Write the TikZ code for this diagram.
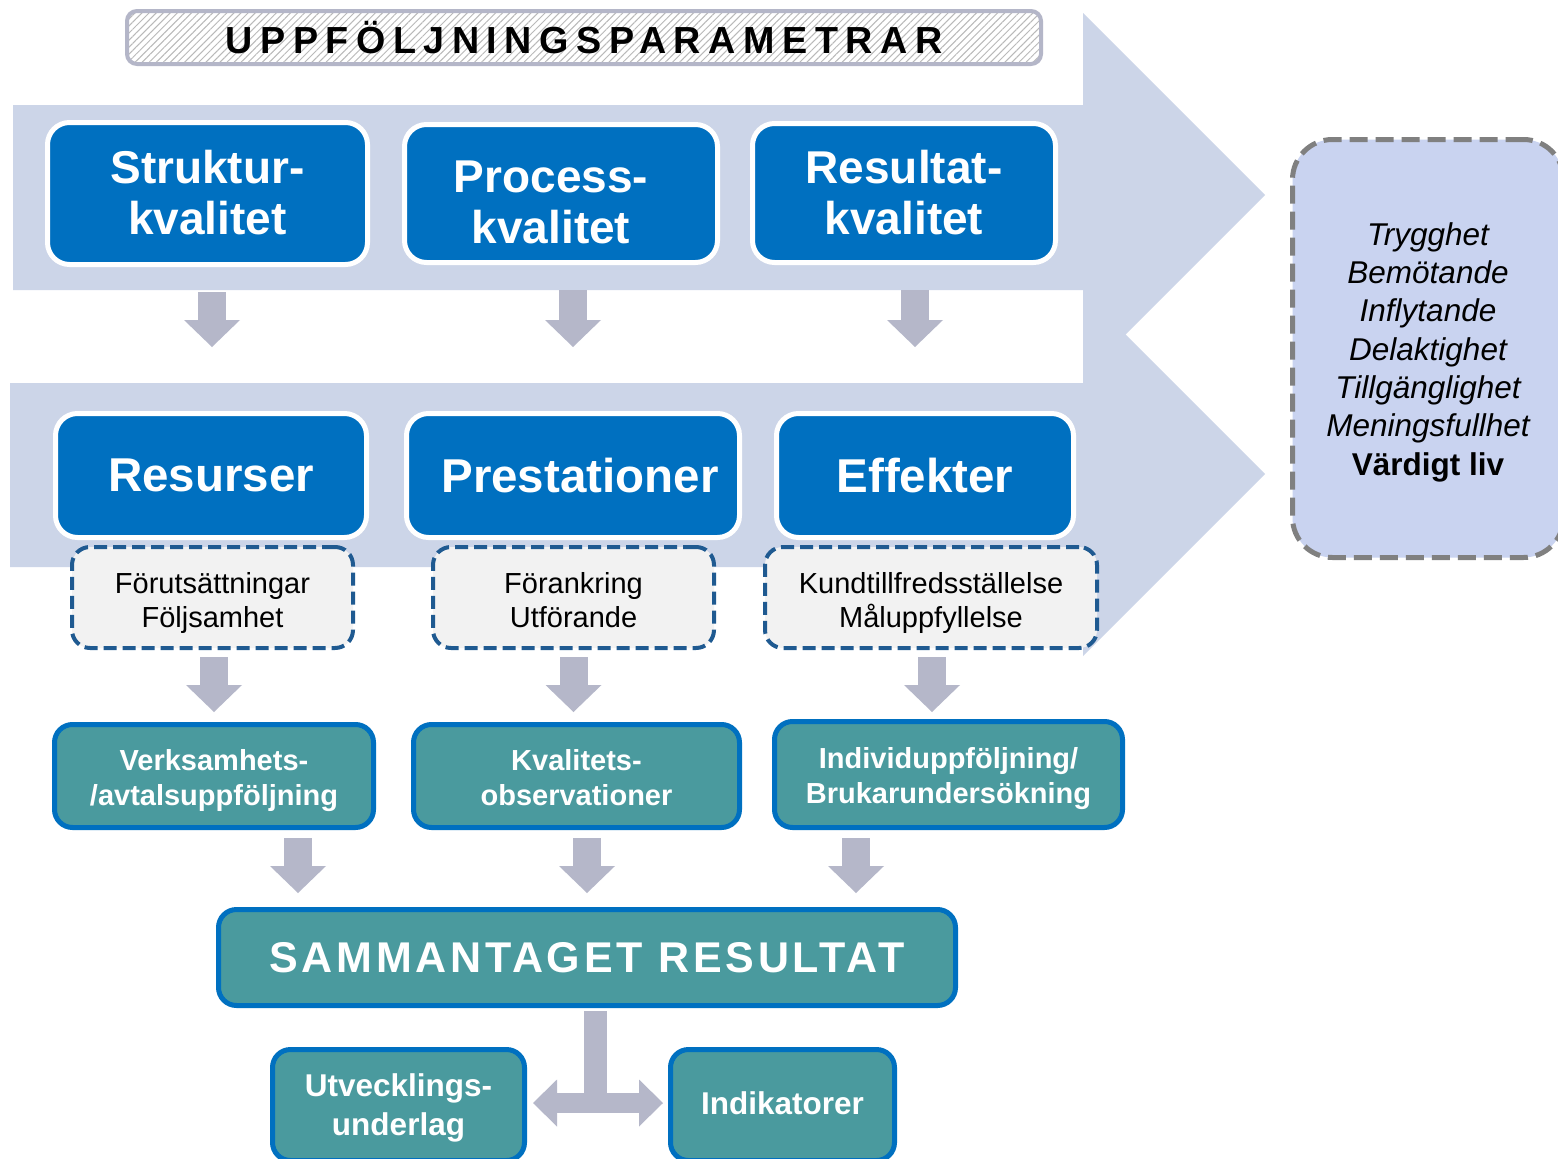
\documentclass[tikz,border=0pt]{standalone}
\usepackage{fontspec}
\setmainfont{Liberation Sans}
\usetikzlibrary{arrows.meta,patterns.meta,calc}
\definecolor{bgarrow}{RGB}{204,213,232}
\definecolor{rfill}{RGB}{201,211,240}
\definecolor{dblue}{RGB}{0,112,192}
\definecolor{teal1}{RGB}{74,154,158}
\definecolor{dashblue}{RGB}{31,90,145}
\definecolor{dfill}{RGB}{242,242,242}
\definecolor{garrowc}{RGB}{181,183,201}
\definecolor{tborder}{RGB}{180,182,200}
\definecolor{rborder}{RGB}{128,128,128}
\begin{document}
\begin{tikzpicture}[x=1pt,y=-1pt,
  bluebox/.style={rounded corners=22pt, fill=dblue, draw=white, line width=5pt, text=white, align=center, inner sep=0pt},
  toptxt/.style={font=\bfseries\fontsize{46}{51}\selectfont, text height=82pt, text depth=0pt},
  midtxt/.style={font=\bfseries\fontsize{47.5}{52}\selectfont},
  dbox/.style={rounded corners=18pt, fill=dfill, draw=dashblue, line width=4pt, dash pattern=on 13pt off 6pt, align=center, inner sep=0pt, font=\fontsize{29}{34}\selectfont, text height=65pt, text depth=6pt},
  tbox/.style={rounded corners=18pt, fill=teal1, draw=dblue, line width=5pt, text=white, align=center, inner sep=0pt, font=\bfseries\fontsize{29}{35}\selectfont},
  ttxt/.style={text height=64pt, text depth=6pt},
  garrow/.style={draw=garrowc, line width=28pt, -{Triangle[width=56pt,length=27pt,line width=0pt]}},
  darrow/.style={draw=garrowc, line width=20pt, {Triangle[width=47pt,length=24pt,line width=0pt]}-{Triangle[width=47pt,length=24pt,line width=0pt]}},
  stemline/.style={draw=garrowc, line width=23pt},
  bigarrow/.style={fill=bgarrow}
]
\useasboundingbox (0,0) rectangle (1558,1159);
\clip (0,0) rectangle (1558,1159);
\fill[white] (0,0) rectangle (1558,1159);

% background arrows
\fill[bigarrow] (13,105) -- (1083,105) -- (1083,13) -- (1265,195) -- (1083,377) -- (1083,290) -- (13,290) -- cycle;
\fill[bigarrow] (10,383) -- (1083,383) -- (1083,292) -- (1265,474) -- (1083,656) -- (1083,567) -- (10,567) -- cycle;

% title banner
\node[draw=tborder, line width=4pt, rounded corners=10pt, preaction={fill=white},
  pattern={Lines[angle=45,distance=5pt,line width=1pt]}, pattern color=gray!55,
  minimum width=914pt, minimum height=53pt, inner sep=0pt,
  font=\bfseries\fontsize{37.7}{40}\selectfont\addfontfeature{LetterSpace=20}]
  (title) at (584,37.5) {UPPFÖLJNINGSPARAMETRAR};

% top row
\node[bluebox, toptxt, minimum width=320pt, minimum height=142pt] (s1) at (207.5,193.5) {Struktur-\\kvalitet};
\node[bluebox, toptxt, text height=99pt, minimum width=313pt, minimum height=138pt] (s2) at (561,193.5) {Process-\hspace*{20pt}\\kvalitet\hspace*{20pt}};
\node[bluebox, toptxt, minimum width=303pt, minimum height=139pt] (s3) at (904,193) {Resultat-\\kvalitet};

% second row
\node[bluebox, midtxt, minimum width=311pt, minimum height=124pt] (r1) at (211,475.5) {Resurser};
\node[bluebox, midtxt, minimum width=333pt, minimum height=124pt] (r2) at (573,475.5) {\hspace*{14pt}Prestationer};
\node[bluebox, midtxt, minimum width=297pt, minimum height=124pt] (r3) at (925,475.5) {Effekter};

% dashed boxes
\node[dbox, minimum width=281pt, minimum height=101pt] (d1) at (212.5,597.5) {Förutsättningar\\Följsamhet};
\node[dbox, minimum width=281pt, minimum height=101pt] (d2) at (573.5,597.5) {Förankring\\Utförande};
\node[dbox, minimum width=332pt, minimum height=101pt] (d3) at (931,597.5) {Kundtillfredsställelse\\Måluppfyllelse};

% teal boxes
\node[tbox, ttxt, minimum width=319pt, minimum height=103pt] (t1) at (214,776) {Verksamhets-\\/avtalsuppföljning};
\node[tbox, ttxt, minimum width=326pt, minimum height=103pt] (t2) at (576.5,776) {Kvalitets-\\observationer};
\node[tbox, ttxt, minimum width=348pt, minimum height=106pt] (t3) at (948.5,774.5) {Individuppföljning/\\Brukarundersökning};

% summary
\node[tbox, minimum width=737pt, minimum height=96pt,
  font=\bfseries\fontsize{43}{46}\selectfont\addfontfeature{LetterSpace=8.7}] (sum) at (587,957.5) {SAMMANTAGET RESULTAT};

% bottom boxes
\node[tbox, minimum width=252pt, minimum height=111pt, font=\bfseries\fontsize{31.5}{39}\selectfont,
  text height=68pt, text depth=6.6pt] (u) at (398.5,1105) {Utvecklings-\\underlag};
\node[tbox, minimum width=224pt, minimum height=111pt, font=\bfseries\fontsize{31.5}{39}\selectfont,
  text height=19pt, text depth=0pt] (i) at (782.5,1105) {Indikatorer};

% right box
\node[draw=rborder, line width=5pt, dash pattern=on 18pt off 8pt, fill=rfill, rounded corners=40pt,
  minimum width=271pt, minimum height=418pt, inner sep=0pt, align=center,
  text height=259.8pt, text depth=6.6pt,
  font=\itshape\fontsize{31.5}{38.3}\selectfont] (goal) at (1428,348.5)
  {Trygghet\\Bemötande\\Inflytande\\Delaktighet\\Tillgänglighet\\Meningsfullhet\\{\upshape\bfseries Värdigt liv}};

% arrows row 1
\draw[garrow] ($(s1.south -| r1.north)+(1,25)$) -- ($(r1.north)+(1,-64)$);
\draw[garrow] ($(s2.south -| r2.north)+(0,25)$) -- ($(r2.north)+(0,-64)$);
\draw[garrow] ($(s3.south -| r3.north)+(-10,25)$) -- ($(r3.north)+(-10,-64)$);

% arrows row 2
\draw[garrow] ($(d1.south)+(1.5,7)$) -- ($(t1.north -| d1.south)+(1.5,-10)$);
\draw[garrow] ($(d2.south)+(0,7)$) -- ($(t2.north -| d2.south)+(0,-10)$);
\draw[garrow] ($(d3.south)+(1,7)$) -- ($(t3.north -| d3.south)+(1,-7)$);

% arrows row 3
\coordinate (c1) at (298,0);
\coordinate (c2) at (587,0);
\coordinate (c3) at (856,0);
\draw[garrow] ($(t1.south -| c1)+(0,8)$) -- ($(sum.north -| c1)+(0,-14)$);
\draw[garrow] ($(t2.south -| c2)+(0,8)$) -- ($(sum.north -| c2)+(0,-14)$);
\draw[garrow] ($(t3.south -| c3)+(0,8)$) -- ($(sum.north -| c3)+(0,-14)$);

% bottom T arrow
\coordinate (junc) at (595.5,1103);
\draw[stemline] ($(sum.south -| junc)+(0,3)$) -- (junc);
\draw[darrow, shorten <=6pt, shorten >=5pt] (u.east |- junc) -- (i.west |- junc);
\end{tikzpicture}
\end{document}
